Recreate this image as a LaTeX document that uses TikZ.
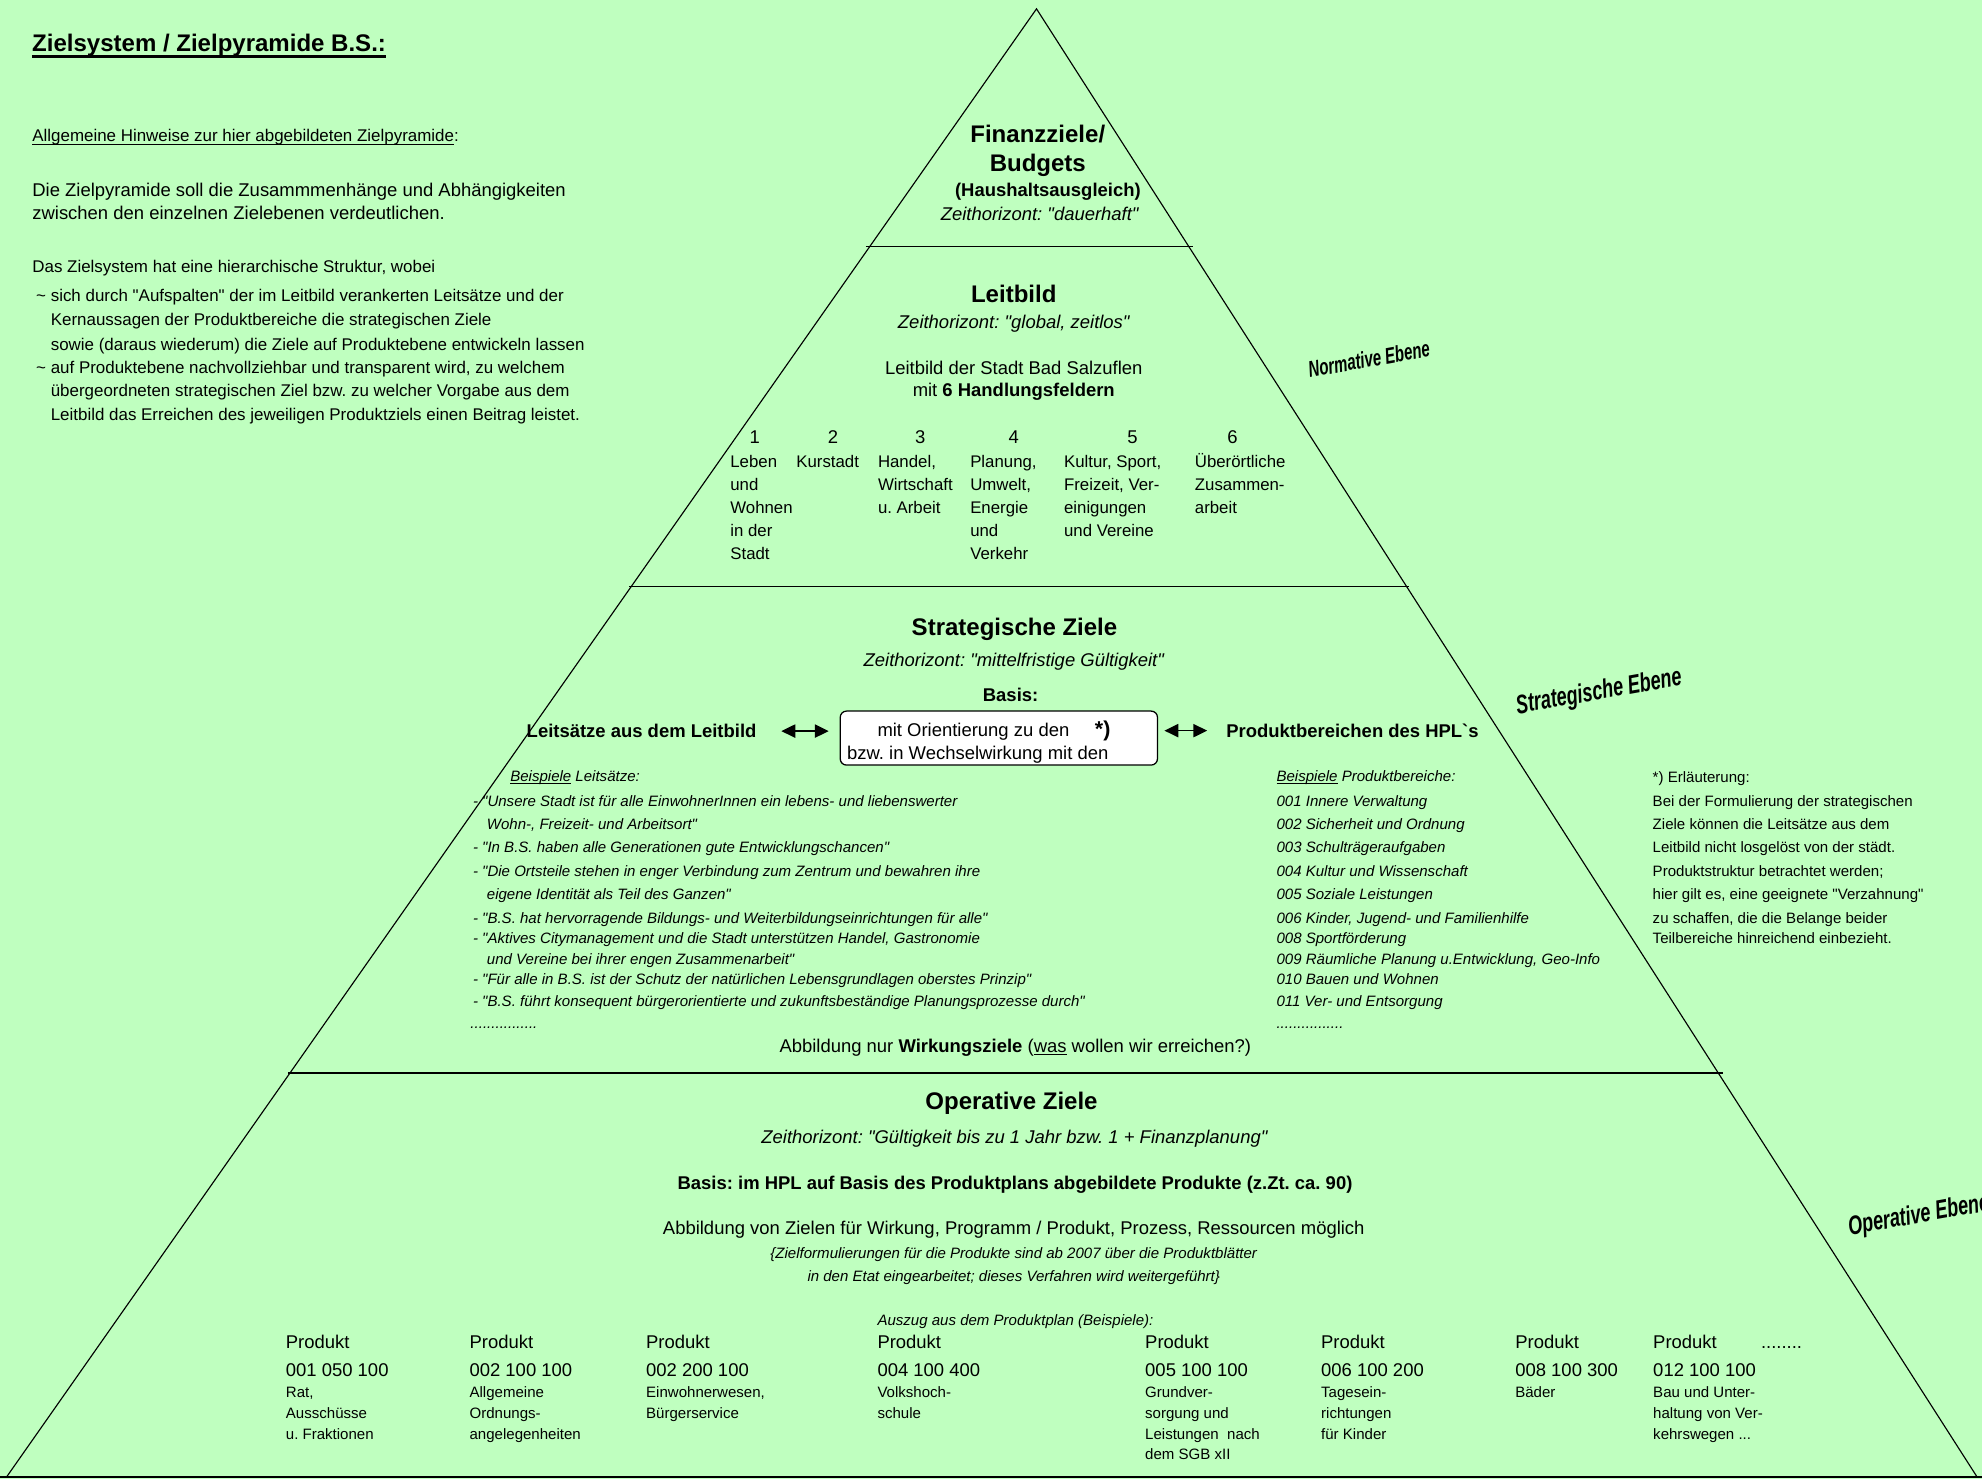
\documentclass[tikz,border=0pt]{standalone}
\usepackage{fontspec}
\usepackage{graphicx}
\usetikzlibrary{arrows.meta}
\newfontfamily\arial{Liberation Sans}
\definecolor{blattgruen}{RGB}{191,255,191}
\newcommand{\fsize}[1]{\fontsize{#1}{#1}\selectfont}
\newcommand{\ulined}[3]{\setbox0\hbox{#3}\rlap{\rule[-#1]{\wd0}{#2}}\box0\relax}
\tikzset{
  ueberschrift/.style={inner sep=0pt, anchor=base, font=\bfseries\fsize{19}},
  zeithorizont/.style={inner sep=0pt, anchor=base, font=\itshape\fsize{14.6}},
  mitteltext/.style={inner sep=0pt, anchor=base, font=\fsize{14.6}},
  fetttext/.style={inner sep=0pt, anchor=base, font=\bfseries\fsize{14.6}},
  normtext/.style={inner sep=0pt, anchor=base west, font=\fsize{14.6}},
  hinweistext/.style={inner sep=0pt, anchor=base west, font=\fsize{13.4}},
  feldtext/.style={inner sep=0pt, anchor=base west, font=\fsize{13.3}},
  kleintext/.style={inner sep=0pt, anchor=base west, font=\fsize{11.9}},
  kursivtext/.style={inner sep=0pt, anchor=base west, font=\itshape\fsize{11.9}},
  ebenentext/.style={inner sep=0pt, anchor=center, rotate=10, font=\bfseries\itshape\fsize{#1}},
  seite/.style={line width=0.9pt},
  trennlinie/.style={line width=1.3pt},
  doppelpfeil/.style={line width=1.2pt, {Triangle[length=11pt,width=10.5pt]}-{Triangle[length=11pt,width=10.5pt]}}
}
\begin{document}
\begin{tikzpicture}[x=1pt, y=-1pt, execute at begin picture={\arial\frenchspacing}]
\fill[blattgruen] (0,0) rectangle (1568,1170);
\useasboundingbox (0,0) rectangle (1568,1170);

\coordinate (spitze) at (820,7);
\coordinate (linksunten) at (5.3,1168.3);
\coordinate (rechtsunten) at (1564,1168.3);
\draw[seite] (linksunten) -- (spitze) -- (rechtsunten);
\draw[trennlinie] (685,195) -- (944,195);
\draw[trennlinie] (498,464) -- (1115,464);
\draw[trennlinie] (228,849) -- (1363,849);
\draw[trennlinie] (0,1168.3) -- (1568,1168.3);

\node[normtext, font=\bfseries\fsize{19}] (titel) at (25.3,40.9) {\ulined{4.9pt}{2pt}{Zielsystem / Zielpyramide B.S.:}};
\node[hinweistext] (allgemein) at (25.4,112) {\ulined{2.6pt}{0.9pt}{Allgemeine Hinweise zur hier abgebildeten Zielpyramide}:};
\node[normtext] (zweck1) at (25.4,155.6) {Die Zielpyramide soll die Zusammmenhänge und Abhängigkeiten};
\node[normtext] (zweck2) at (25.4,174) {zwischen den einzelnen Zielebenen verdeutlichen.};
\node[hinweistext] (struktur) at (25.4,215.7) {Das Zielsystem hat eine hierarchische Struktur, wobei};
\node[hinweistext] (punkt1a) at (40,238.7) {\llap{\textasciitilde\ }sich durch "Aufspalten" der im Leitbild verankerten Leitsätze und der};
\node[hinweistext] (punkt1b) at (40,257.9) {Kernaussagen der Produktbereiche die strategischen Ziele};
\node[hinweistext] (punkt1c) at (40,276.9) {sowie (daraus wiederum) die Ziele auf Produktebene entwickeln lassen};
\node[hinweistext] (punkt2a) at (40,295.4) {\llap{\textasciitilde\ }auf Produktebene nachvollziehbar und transparent wird, zu welchem};
\node[hinweistext] (punkt2b) at (40,313.8) {übergeordneten strategischen Ziel bzw. zu welcher Vorgabe aus dem};
\node[hinweistext] (punkt2c) at (40,332.3) {Leitbild das Erreichen des jeweiligen Produktziels einen Beitrag leistet.};

\node[ueberschrift] (finanz1) at (821,112.9) {Finanzziele/};
\node[ueberschrift] (finanz2) at (821,135.7) {Budgets};
\node[fetttext] (finanz3) at (829,155.4) {(Haushaltsausgleich)};
\node[zeithorizont] (finanzzeit) at (822.5,174.5) {Zeithorizont: "dauerhaft"};

\node[ueberschrift] (leitbild) at (802,239.7) {Leitbild};
\node[zeithorizont] (leitbildzeit) at (802,259.5) {Zeithorizont: "global, zeitlos"};
\node[mitteltext] (stadt) at (802,295.9) {Leitbild der Stadt Bad Salzuflen};
\node[mitteltext] (felder) at (802,314) {mit \textbf{6 Handlungsfeldern}};
\node[mitteltext] (nr1) at (597,350.5) {1};
\node[mitteltext] (nr2) at (659,350.5) {2};
\node[mitteltext] (nr3) at (728,350.5) {3};
\node[mitteltext] (nr4) at (802,350.5) {4};
\node[mitteltext] (nr5) at (896,350.5) {5};
\node[mitteltext] (nr6) at (975,350.5) {6};
\node[feldtext] (feld1a) at (577.6,370) {Leben};
\node[feldtext] (feld1b) at (577.6,388.2) {und};
\node[feldtext] (feld1c) at (577.6,406.4) {Wohnen};
\node[feldtext] (feld1d) at (577.6,424.8) {in der};
\node[feldtext] (feld1e) at (577.6,443) {Stadt};
\node[feldtext] (feld2a) at (629.8,370) {Kurstadt};
\node[feldtext] (feld3a) at (694.4,370) {Handel,};
\node[feldtext] (feld3b) at (694.4,388.2) {Wirtschaft};
\node[feldtext] (feld3c) at (694.4,406.4) {u. Arbeit};
\node[feldtext] (feld4a) at (767.4,370) {Planung,};
\node[feldtext] (feld4b) at (767.4,388.2) {Umwelt,};
\node[feldtext] (feld4c) at (767.4,406.4) {Energie};
\node[feldtext] (feld4d) at (767.4,424.8) {und};
\node[feldtext] (feld4e) at (767.4,443) {Verkehr};
\node[feldtext] (feld5a) at (841.6,370) {Kultur, Sport,};
\node[feldtext] (feld5b) at (841.6,388.2) {Freizeit, Ver-};
\node[feldtext] (feld5c) at (841.6,406.4) {einigungen};
\node[feldtext] (feld5d) at (841.6,424.8) {und Vereine};
\node[feldtext] (feld6a) at (945.1,370) {Überörtliche};
\node[feldtext] (feld6b) at (945.1,388.2) {Zusammen-};
\node[feldtext] (feld6c) at (945.1,406.4) {arbeit};

\node[ueberschrift] (strategie) at (802.6,502.4) {Strategische Ziele};
\node[zeithorizont] (strategiezeit) at (802,526.9) {Zeithorizont: "mittelfristige Gültigkeit"};
\node[fetttext] (basis) at (799.5,555) {Basis:};
\node[fetttext, anchor=base west] (leitsaetze) at (416.5,583.6) {Leitsätze aus dem Leitbild};
\node[draw, line width=1pt, fill=white, rounded corners=5pt, minimum width=251pt, minimum height=42.7pt, inner sep=0pt] (basisbox) at (790.2,583.9) {};
\node[normtext] (orient1) at (694,582.3) {mit Orientierung zu den};
\node[normtext, font=\bfseries\fsize{17}] (stern) at (866,582.5) {*)};
\begin{scope}
\clip ([yshift=2pt]basisbox.south west) rectangle (basisbox.north east);
\node[normtext] (orient2) at (670,600.7) {bzw. in Wechselwirkung mit den};
\end{scope}
\node[fetttext, anchor=base west] (prodbereiche) at (970,583.3) {Produktbereichen des HPL`s};
\draw[doppelpfeil, shorten <=19.5pt, shorten >=8.6pt] (leitsaetze.east) -- (leitsaetze.east -| basisbox.west);
\draw[doppelpfeil, shorten <=5pt, shorten >=15pt] (basisbox.east |- prodbereiche.west) -- (prodbereiche.west);

\node[kursivtext] (bspleit) at (403.5,618.4) {\ulined{1.8pt}{0.6pt}{Beispiele} Leitsätze:};
\node[kursivtext] (leit1a) at (374,638.2) {- "Unsere Stadt ist für alle EinwohnerInnen ein lebens- und liebenswerter};
\node[kursivtext] (leit1b) at (385,656.6) {Wohn-, Freizeit- und Arbeitsort"};
\node[kursivtext] (leit2) at (374,674.6) {- "In B.S. haben alle Generationen gute Entwicklungschancen"};
\node[kursivtext] (leit3a) at (374,693.6) {- "Die Ortsteile stehen in enger Verbindung zum Zentrum und bewahren ihre};
\node[kursivtext] (leit3b) at (385,711.5) {eigene Identität als Teil des Ganzen"};
\node[kursivtext] (leit4) at (374,730.5) {- "B.S. hat hervorragende Bildungs- und Weiterbildungseinrichtungen für alle"};
\node[kursivtext] (leit5a) at (374,746.8) {- "Aktives Citymanagement und die Stadt unterstützen Handel, Gastronomie};
\node[kursivtext] (leit5b) at (385,763.4) {und Vereine bei ihrer engen Zusammenarbeit"};
\node[kursivtext] (leit6) at (374,778.7) {- "Für alle in B.S. ist der Schutz der natürlichen Lebensgrundlagen oberstes Prinzip"};
\node[kursivtext] (leit7) at (374,795.9) {- "B.S. führt konsequent bürgerorientierte und zukunftsbeständige Planungsprozesse durch"};
\node[kursivtext] (leitpunkte) at (372,813.5) {................};

\node[kursivtext] (bspprod) at (1009.7,618.4) {\ulined{1.8pt}{0.6pt}{Beispiele} Produktbereiche:};
\node[kursivtext] (pb001) at (1009.7,638.2) {001 Innere Verwaltung};
\node[kursivtext] (pb002) at (1009.7,656.6) {002 Sicherheit und Ordnung};
\node[kursivtext] (pb003) at (1009.7,674.6) {003 Schulträgeraufgaben};
\node[kursivtext] (pb004) at (1009.7,693.6) {004 Kultur und Wissenschaft};
\node[kursivtext] (pb005) at (1009.7,711.5) {005 Soziale Leistungen};
\node[kursivtext] (pb006) at (1009.7,730.5) {006 Kinder, Jugend- und Familienhilfe};
\node[kursivtext] (pb008) at (1009.7,746.8) {008 Sportförderung};
\node[kursivtext] (pb009) at (1009.7,763.4) {009 Räumliche Planung u.Entwicklung, Geo-Info};
\node[kursivtext] (pb010) at (1009.7,778.7) {010 Bauen und Wohnen};
\node[kursivtext] (pb011) at (1009.7,795.9) {011 Ver- und Entsorgung};
\node[kursivtext] (pbpunkte) at (1009.7,813.5) {................};

\node[kleintext] (erlaeut0) at (1307.3,619.2) {*) Erläuterung:};
\node[kleintext] (erlaeut1) at (1307.3,638.2) {Bei der Formulierung der strategischen};
\node[kleintext] (erlaeut2) at (1307.3,656.6) {Ziele können die Leitsätze aus dem};
\node[kleintext] (erlaeut3) at (1307.3,674.6) {Leitbild nicht losgelöst von der städt.};
\node[kleintext] (erlaeut4) at (1307.3,693.6) {Produktstruktur betrachtet werden;};
\node[kleintext] (erlaeut5) at (1307.3,711.5) {hier gilt es, eine geeignete "Verzahnung"};
\node[kleintext] (erlaeut6) at (1307.3,730.5) {zu schaffen, die die Belange beider};
\node[kleintext] (erlaeut7) at (1307.3,746.8) {Teilbereiche hinreichend einbezieht.};

\node[normtext] (wirkung) at (616.5,832.8) {Abbildung nur \textbf{Wirkungsziele} (\ulined{2pt}{0.8pt}{was} wollen wir erreichen?)};

\node[ueberschrift] (operativ) at (800.2,877.6) {Operative Ziele};
\node[zeithorizont] (operativzeit) at (802.5,904.5) {Zeithorizont: "Gültigkeit bis zu 1 Jahr bzw. 1 + Finanzplanung"};
\node[fetttext] (opbasis) at (803,940.9) {Basis: im HPL auf Basis des Produktplans abgebildete Produkte (z.Zt. ca. 90)};
\node[mitteltext] (opabbildung) at (802,977) {Abbildung von Zielen für Wirkung, Programm / Produkt, Prozess, Ressourcen möglich};
\node[kursivtext, anchor=base] (opklammer1) at (802,996) {\{Zielformulierungen für die Produkte sind ab 2007 über die Produktblätter};
\node[kursivtext, anchor=base] (opklammer2) at (802,1014) {in den Etat eingearbeitet; dieses Verfahren wird weitergeführt\}};
\node[kursivtext] (auszug) at (694,1048.3) {Auszug aus dem Produktplan (Beispiele):};

\node[normtext] (prod1) at (226,1066.7) {Produkt};
\node[normtext] (prod1nr) at (226,1089) {001 050 100};
\node[kleintext] (prod1a) at (226,1105.5) {Rat,};
\node[kleintext] (prod1b) at (226,1122) {Ausschüsse};
\node[kleintext] (prod1c) at (226,1138.5) {u. Fraktionen};
\node[normtext] (prod2) at (371.3,1066.7) {Produkt};
\node[normtext] (prod2nr) at (371.3,1089) {002 100 100};
\node[kleintext] (prod2a) at (371.3,1105.5) {Allgemeine};
\node[kleintext] (prod2b) at (371.3,1122) {Ordnungs-};
\node[kleintext] (prod2c) at (371.3,1138.5) {angelegenheiten};
\node[normtext] (prod3) at (511,1066.7) {Produkt};
\node[normtext] (prod3nr) at (511,1089) {002 200 100};
\node[kleintext] (prod3a) at (511,1105.5) {Einwohnerwesen,};
\node[kleintext] (prod3b) at (511,1122) {Bürgerservice};
\node[normtext] (prod4) at (694,1066.7) {Produkt};
\node[normtext] (prod4nr) at (694,1089) {004 100 400};
\node[kleintext] (prod4a) at (694,1105.5) {Volkshoch-};
\node[kleintext] (prod4b) at (694,1122) {schule};
\node[normtext] (prod5) at (905.8,1066.7) {Produkt};
\node[normtext] (prod5nr) at (905.8,1089) {005 100 100};
\node[kleintext] (prod5a) at (905.8,1105.5) {Grundver-};
\node[kleintext] (prod5b) at (905.8,1122) {sorgung und};
\node[kleintext] (prod5c) at (905.8,1138.5) {Leistungen\ \ nach};
\node[kleintext] (prod5d) at (905.8,1154.5) {dem SGB xII};
\node[normtext] (prod6) at (1045,1066.7) {Produkt};
\node[normtext] (prod6nr) at (1045,1089) {006 100 200};
\node[kleintext] (prod6a) at (1045,1105.5) {Tagesein-};
\node[kleintext] (prod6b) at (1045,1122) {richtungen};
\node[kleintext] (prod6c) at (1045,1138.5) {für Kinder};
\node[normtext] (prod7) at (1198.6,1066.7) {Produkt};
\node[normtext] (prod7nr) at (1198.6,1089) {008 100 300};
\node[kleintext] (prod7a) at (1198.6,1105.5) {Bäder};
\node[normtext] (prod8) at (1307.7,1066.7) {Produkt};
\node[normtext] (prod8nr) at (1307.7,1089) {012 100 100};
\node[kleintext] (prod8a) at (1307.7,1105.5) {Bau und Unter-};
\node[kleintext] (prod8b) at (1307.7,1122) {haltung von Ver-};
\node[kleintext] (prod8c) at (1307.7,1138.5) {kehrswegen ...};
\node[normtext] (prodpunkte) at (1393,1066.7) {........};

\node[ebenentext=18] (normativ) at (1083,284) {\scalebox{0.66}[1]{Normative Ebene}};
\node[ebenentext=21] (strategisch) at (1265,548) {\scalebox{0.68}[1]{Strategische Ebene}};
\node[ebenentext=21] (operativebene) at (1518,962) {\scalebox{0.68}[1]{Operative Ebene}};
\end{tikzpicture}
\end{document}
